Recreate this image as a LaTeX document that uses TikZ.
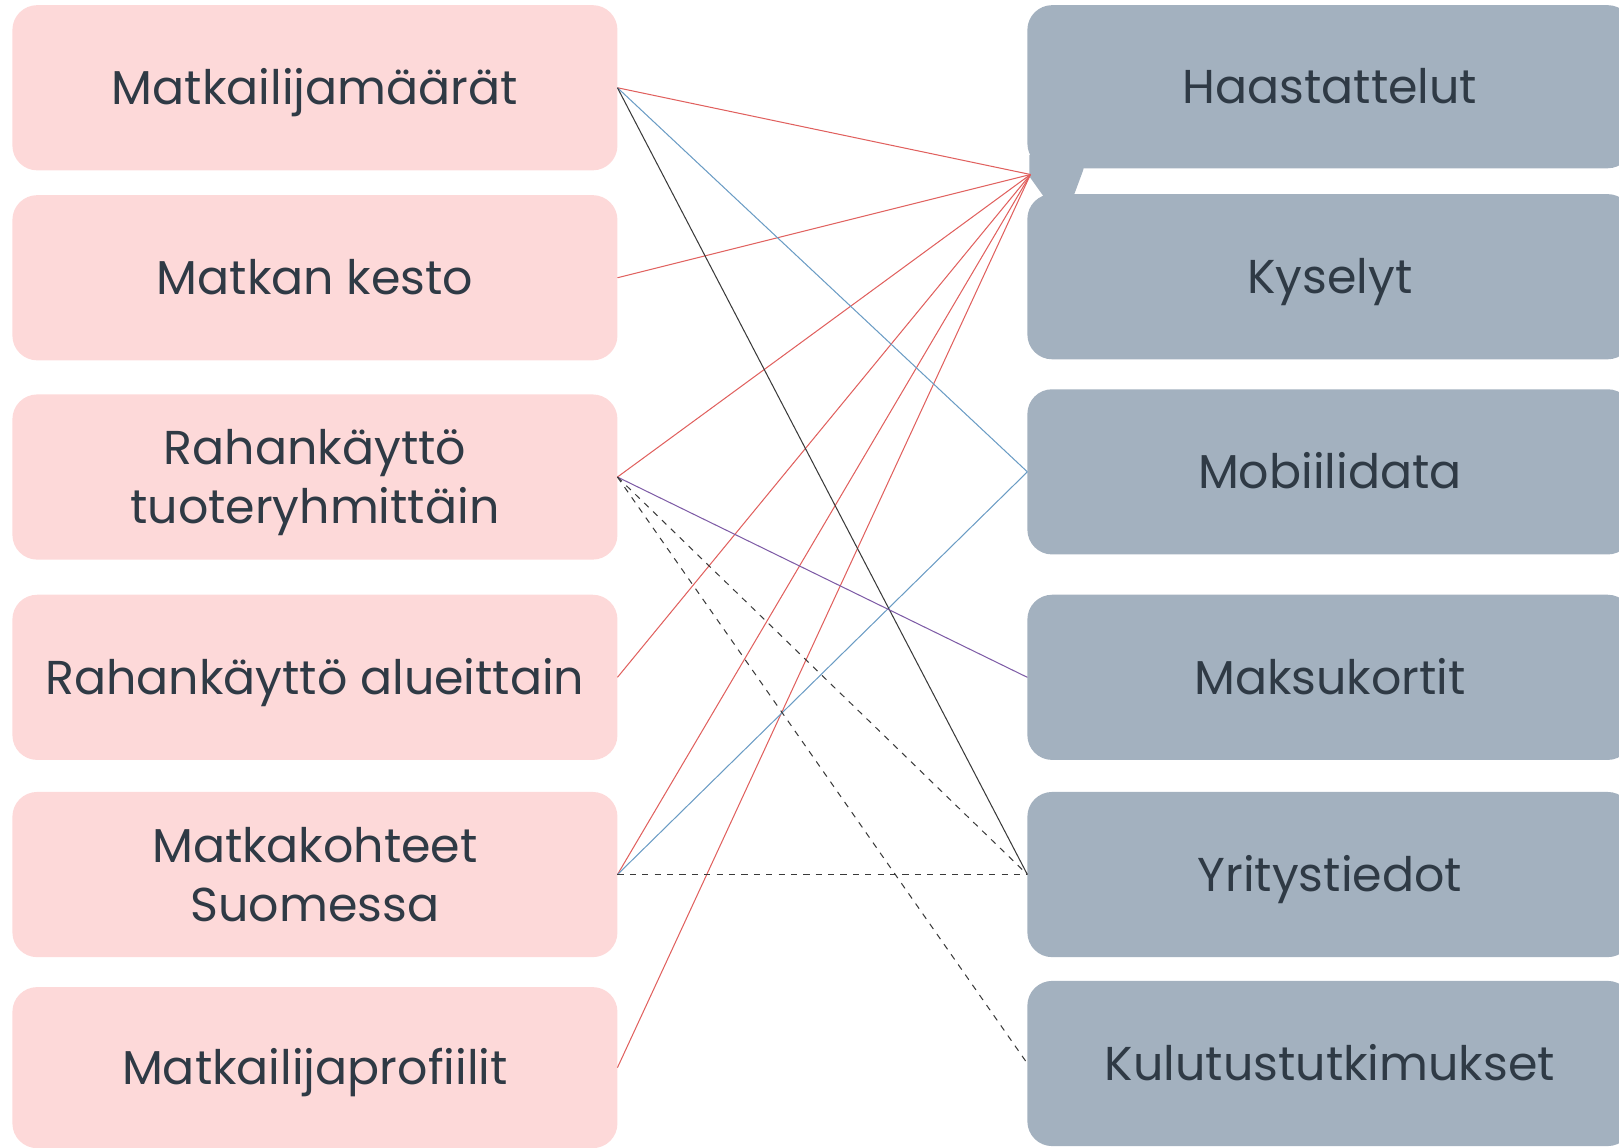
\documentclass[tikz,border=0pt]{standalone}
\usepackage{fontspec}
\setmainfont{Poppins}
\definecolor{pinkbox}{HTML}{FDD9D9}
\definecolor{greybox}{HTML}{A3B1BF}
\definecolor{boxtext}{HTML}{2F3A45}
\definecolor{redline}{HTML}{E0605E}
\definecolor{blueline}{HTML}{6A9CC4}
\definecolor{purpleline}{HTML}{7E5CA6}
\definecolor{darkline}{HTML}{3A3A3A}
\newcommand{\boxlabel}[1]{\raisebox{-2.6pt}[\height][\depth]{\begin{tabular}{@{}c@{}}#1\end{tabular}}}
\begin{document}
\begin{tikzpicture}[x=0.5pt, y=-0.5pt,
    srcbox/.style={rectangle, rounded corners=12pt, fill=pinkbox, text=boxtext,
      minimum width=293pt, minimum height=80pt, inner sep=0pt, outer sep=0pt,
      align=center, font=\fontsize{23}{28.5}\selectfont},
    databox/.style={srcbox, fill=greybox},
    link/.style={line width=0.5pt}]
          \useasboundingbox (0, 0) rectangle (1568, 1111);
          % left column
          \node[srcbox] (maarat) at (305, 85) {\boxlabel{Matkailijamäärät}};
          \node[srcbox] (kesto) at (305, 269) {\boxlabel{Matkan kesto}};
          \node[srcbox] (tuote) at (305, 462) {\boxlabel{Rahankäyttö\\tuoteryhmittäin}};
          \node[srcbox] (alue) at (305, 656) {\boxlabel{Rahankäyttö alueittain}};
          \node[srcbox] (kohde) at (305, 847) {\boxlabel{Matkakohteet\\Suomessa}};
          \node[srcbox, minimum height=78pt] (profiili) at (305, 1034) {\boxlabel{Matkailijaprofiilit}};
          % right column
          \node[databox, minimum height=79pt] (haast) at (1288, 84) {\boxlabel{Haastattelut}};
          \node[databox] (kysely) at (1288, 268) {\boxlabel{Kyselyt}};
          \node[databox] (mobiili) at (1288, 457) {\boxlabel{Mobiilidata}};
          \node[databox] (maksu) at (1288, 656) {\boxlabel{Maksukortit}};
          \node[databox] (yritys) at (1288, 847) {\boxlabel{Yritystiedot}};
          \node[databox] (kulutus) at (1288, 1030) {\boxlabel{Kulutustutkimukset}};
          \fill[greybox] (997, 150) -- (1052, 150) -- (1049, 165) -- (1039, 192) -- (1012, 192) -- (997, 171) -- cycle;
          \coordinate (hub) at (998, 169);
          % links
          \draw[link, redline] (maarat.east) -- (hub);
          \draw[link, redline] (kesto.east) -- (hub);
          \draw[link, redline] (tuote.east) -- (hub);
          \draw[link, redline] (alue.east) -- (hub);
          \draw[link, redline] (kohde.east) -- (hub);
          \draw[link, redline] (profiili.east) -- (hub);
          \draw[link, blueline] (maarat.east) -- (mobiili.west);
          \draw[link, blueline] (kohde.east) -- (mobiili.west);
          \draw[link, darkline] (maarat.east) -- (yritys.west);
          \draw[link, purpleline] (tuote.east) -- (maksu.west);
          \draw[link, darkline, dashed] (tuote.east) -- (yritys.west);
          \draw[link, darkline, dashed] (tuote.east) -- (kulutus.west);
          \draw[link, darkline, dashed] (kohde.east) -- (yritys.west);
    \end{tikzpicture}
\end{document}
